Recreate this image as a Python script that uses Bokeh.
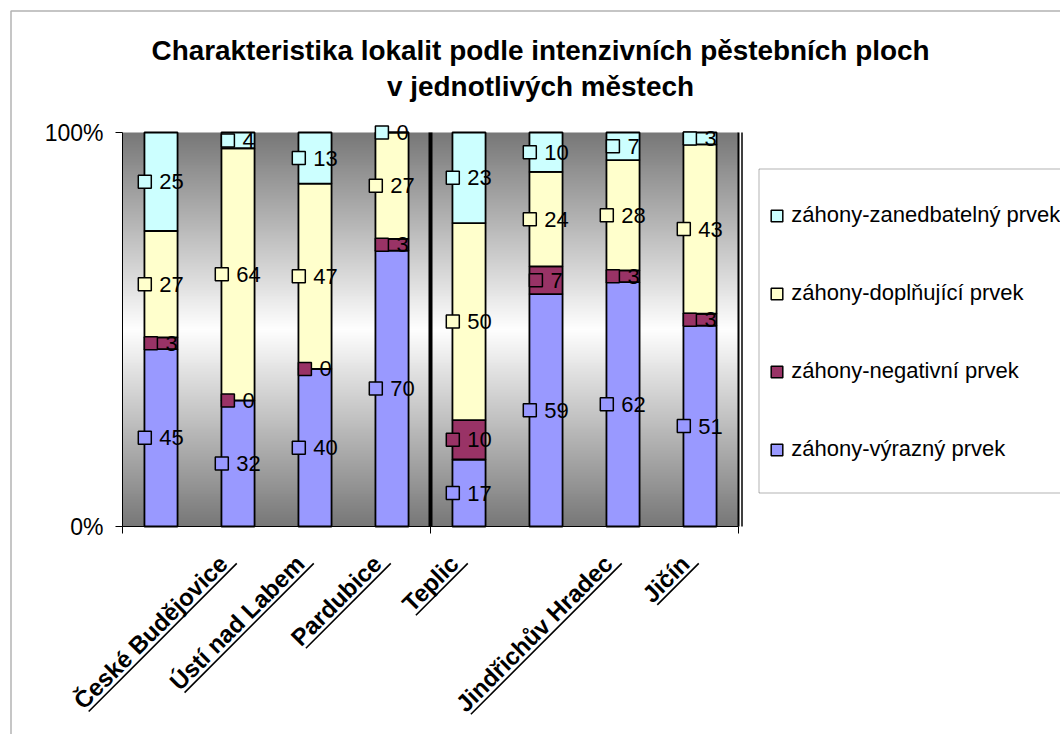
import numpy as np
from math import pi
from bokeh.plotting import figure
from bokeh.models import (Range1d, LinearAxis, FixedTicker, ColumnDataSource, Label,
                          PolyAnnotation, Legend, LegendItem)
from bokeh.core.properties import value
from bokeh.embed import file_html
from bokeh.resources import INLINE

# ---------------- data ----------------
title_lines = ["Charakteristika lokalit podle intenzivních pěstebních ploch",
               "v jednotlivých městech"]
categories = ["České Budějovice", "Ústí nad Labem", "Pardubice", "Teplic", "",
              "Jindřichův Hradec", "Jičín", ""]
series_names = ["záhony-výrazný prvek", "záhony-negativní prvek",
                "záhony-doplňující prvek", "záhony-zanedbatelný prvek"]
vyrazny = [45, 32, 40, 70, 17, 59, 62, 51]
negativni = [3, 0, 0, 3, 10, 7, 3, 3]
doplnujici = [27, 64, 47, 27, 50, 24, 28, 43]
zanedbatelny = [25, 4, 13, 0, 23, 10, 7, 3]
y_ticks = [0, 100]
y_tick_labels = ["0%", "100%"]
group_size = 4

# ---------------- layout / style ----------------
colors = ["#9999FF", "#993366", "#FFFFCC", "#CCFFFF"]
FONT = "Liberation Sans"
n_cat = len(categories)
W, H = 1060, 734                 # canvas
X0, XN = 122, 738                # page x of category axis start / end
Y0, Y100 = 526, 132              # page y of 0 % and 100 %
PPU = (XN - X0) / n_cat          # px per category
PPY = (Y0 - Y100) / 100          # px per percent


def dx(px):   # page x -> data x
    return (px - X0) / PPU


def dy(py):   # page y -> data y
    return (Y0 - py) / PPY


p = figure(frame_width=W, frame_height=H,
           x_range=Range1d(dx(0), dx(W)), y_range=Range1d(dy(H), dy(0)),
           output_backend="svg", toolbar_location=None,
           x_axis_type=None, y_axis_type=None, min_border=0)
p.title.visible = False
p.outline_line_color = None
p.background_fill_color = "white"
p.border_fill_color = "white"

# gradient background of the plot area
n = 400
t = np.linspace(0, 1, n)
g = (120 + 135 * (1 - np.abs(2 * t - 1))).astype(np.uint8)
img = np.zeros((n, 1), dtype=np.uint32)
view = img.view(dtype=np.uint8).reshape((n, 1, 4))
view[:, 0, 0] = g
view[:, 0, 1] = g
view[:, 0, 2] = g
view[:, 0, 3] = 255
p.image_rgba(image=[img], x=0, y=0, dw=n_cat, dh=100)

# y axis
yax = LinearAxis(fixed_location=0, bounds=(0, 100), ticker=FixedTicker(ticks=y_ticks),
                 major_label_overrides={tk: l for tk, l in zip(y_ticks, y_tick_labels)})
yax.major_tick_out = 7
yax.major_tick_in = 0
yax.minor_tick_out = 0
yax.minor_tick_in = 0
yax.major_label_standoff = 12
yax.major_label_text_font = FONT
yax.major_label_text_font_size = "23px"
yax.major_label_text_color = "black"
yax.axis_line_color = "black"
yax.major_tick_line_color = "black"
p.add_layout(yax, "left")

# x axis: category names as rotated labels, boundary ticks as minor ticks
xc = [i + 0.5 for i in range(n_cat)]
LAB_FS = 24
LAB_SHIFT = 0.806
LAB_STANDOFF = 26
lab_pos = [xc[i] + LAB_SHIFT for i, c in enumerate(categories) if c]
lab_txt = [c for c in categories if c]
xax = LinearAxis(fixed_location=0, bounds=(0, n_cat),
                 ticker=FixedTicker(ticks=lab_pos, minor_ticks=[0, group_size, n_cat]),
                 major_label_overrides={pos: tx for pos, tx in zip(lab_pos, lab_txt)})
xax.major_tick_out = 0
xax.major_tick_in = 0
xax.major_tick_line_color = None
xax.minor_tick_out = 7
xax.minor_tick_in = 0
xax.minor_tick_line_color = "black"
xax.axis_line_color = "black"
xax.major_label_orientation = pi / 4
xax.major_label_standoff = LAB_STANDOFF
xax.major_label_text_font = FONT
xax.major_label_text_font_size = f"{LAB_FS}px"
xax.major_label_text_font_style = "bold"
xax.major_label_text_color = "black"
p.add_layout(xax, "below")

# separator and right edge lines
p.segment(x0=[group_size], y0=[0], x1=[group_size], y1=[100], line_color="black", line_width=4)
p.segment(x0=[n_cat], y0=[0], x1=[n_cat], y1=[100], line_color="black", line_width=2)
p.segment(x0=[n_cat + 3.5 / PPU], y0=[0], x1=[n_cat + 3.5 / PPU], y1=[100],
          line_color="black", line_width=1.5)

# stacked bars
series = [vyrazny, negativni, doplnujici, zanedbatelny]
keys = ["s0", "s1", "s2", "s3"]
src = ColumnDataSource(dict(x=xc, **{k: s for k, s in zip(keys, series)}))
p.vbar_stack(keys, x="x", width=0.43, fill_color=colors, line_color="black",
             line_width=1.8, source=src)

# data labels: legend key square + value
marker_renderers = []
bottom = [0] * n_cat
for s, col in zip(series, colors):
    mids, mx, txt, tx, toff = [], [], [], [], []
    for i, v in enumerate(s):
        mid = bottom[i] + v / 2
        label = str(v)
        tw = 12.2 * len(label)
        left = -(13 + 8 + tw) / 2
        mids.append(mid)
        mx.append(xc[i] + (left + 6.5) / PPU)
        txt.append(label)
        tx.append(xc[i])
        toff.append(left + 13 + 8)
        bottom[i] += v
    r = p.scatter(x=mx, y=mids, marker="square", size=13, fill_color=col,
                  line_color="black", line_width=1.5)
    marker_renderers.append(r)
    tsrc = ColumnDataSource(dict(x=tx, y=mids, text=txt, xoff=toff))
    p.text(x="x", y="y", text="text", x_offset="xoff", source=tsrc,
           text_baseline="middle", text_align="left", text_font=value(FONT),
           text_font_size=value("22px"), text_color="black")

# underlines of category labels
bold_w = {' ': 278, 'A': 722, 'B': 722, 'C': 722, 'H': 722, 'J': 556, 'L': 611, 'P': 667,
          'T': 611, 'Ú': 722, 'Č': 722, 'a': 556, 'b': 611, 'c': 556, 'd': 611, 'e': 556,
          'h': 611, 'i': 278, 'j': 278, 'k': 556, 'l': 278, 'm': 889, 'n': 611, 'o': 611,
          'p': 611, 'r': 389, 's': 556, 't': 333, 'u': 611, 'v': 556, 'í': 278, 'ě': 556,
          'é': 556, 'č': 556, 'ř': 389, 'ů': 611}
ux0, uy0, ux1, uy1 = [], [], [], []
for pos, c in zip(lab_pos, lab_txt):
    w = sum(bold_w.get(ch, 556) for ch in c) * LAB_FS / 1000 + 4
    off = 17.4 * 0.7071          # perpendicular distance below the label's centre line
    ext = 2 * 0.7071             # small extension past the text end
    ex_px = X0 + pos * PPU + off + ext
    ey_px = Y0 + LAB_STANDOFF + off - ext
    ux1.append(dx(ex_px))
    uy1.append(dy(ey_px))
    ux0.append(dx(ex_px - w * 0.7071))
    uy0.append(dy(ey_px + w * 0.7071))
p.segment(x0=ux0, y0=uy0, x1=ux1, y1=uy1, line_color="black", line_width=1.6)

# chart border (top & left)
p.add_layout(PolyAnnotation(xs=[dx(10.5), dx(10.5), dx(1300), dx(1300)],
                            ys=[dy(1000), dy(10.5), dy(10.5), dy(1000)],
                            line_color="black", line_width=1.5, fill_alpha=0))

# titles
for k, line in enumerate(title_lines):
    p.add_layout(Label(x=540, y=H - 50 - 36 * k, x_units="screen", y_units="screen",
                       text=line, text_align="center", text_baseline="middle",
                       text_font=FONT, text_font_style="bold", text_font_size="27.9px",
                       text_color="black"))

# legend box and legend
p.add_layout(PolyAnnotation(xs=[dx(758.5), dx(758.5), dx(1300), dx(1300)],
                            ys=[dy(492.5), dy(168.5), dy(168.5), dy(492.5)],
                            line_color="black", line_width=1, fill_alpha=0))
legend = Legend(items=[LegendItem(label=series_names[k], renderers=[marker_renderers[k]])
                       for k in [3, 2, 1, 0]],
                location=(762.25, H - 472.5 + 9), margin=0, padding=9, spacing=49,
                glyph_width=29, glyph_height=29, label_height=29, label_standoff=-10,
                border_line_color=None, background_fill_alpha=0,
                label_text_font=FONT, label_text_font_size="22px", label_text_color="black")
p.add_layout(legend)

open("out.html", "w").write(file_html(p, INLINE))
